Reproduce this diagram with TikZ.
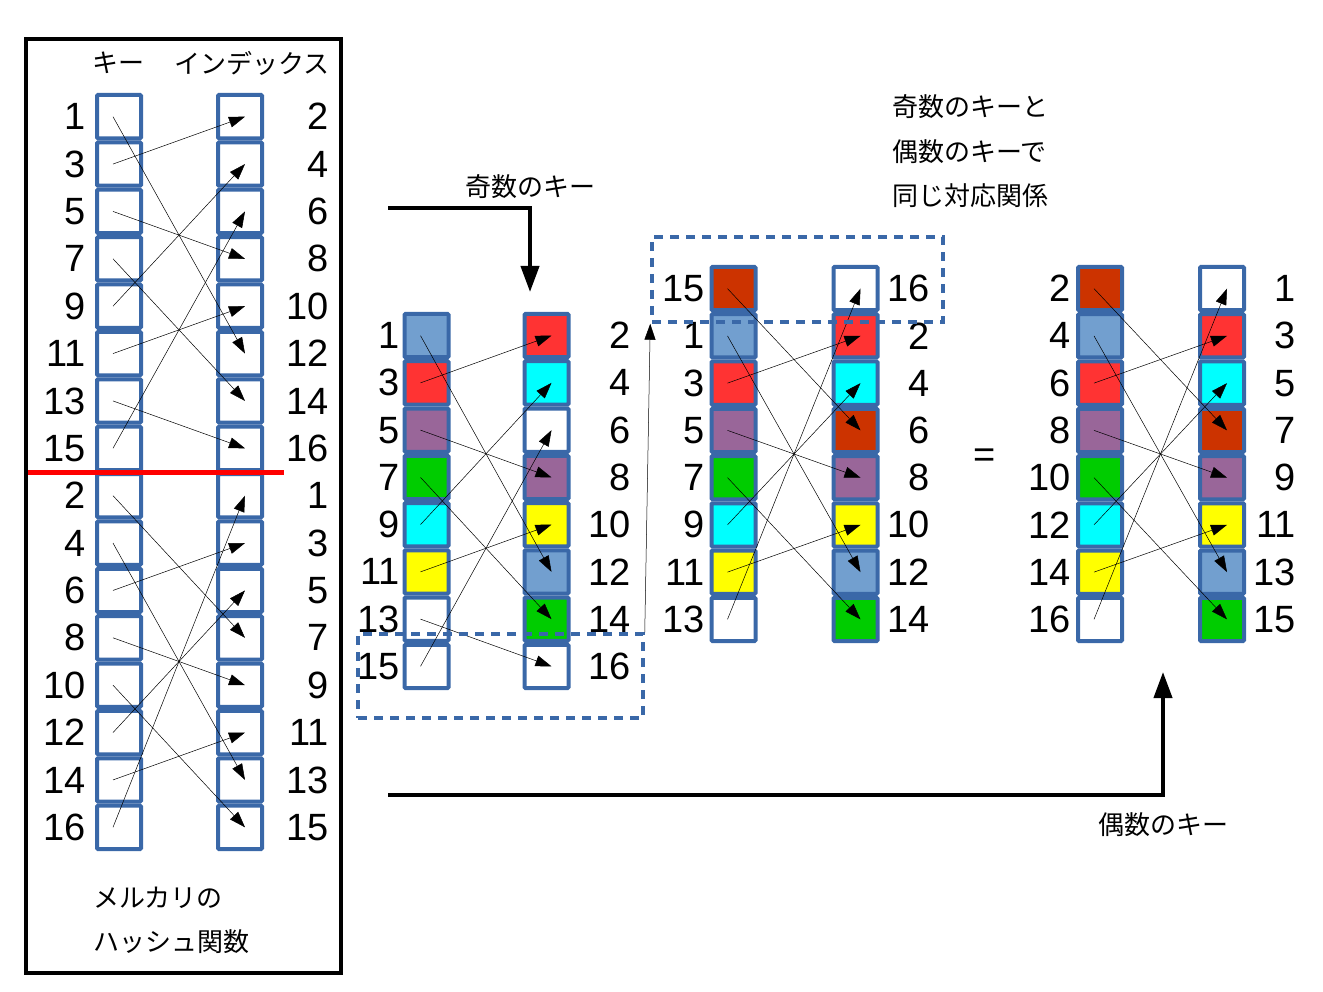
\documentclass[tikz,border=0pt]{standalone}
\usepackage{fontspec}
\setmainfont{Liberation Sans}
\newfontfamily\jp{Noto Sans CJK JP}
\usetikzlibrary{arrows.meta}
\definecolor{cb}{HTML}{3A68A8}
\definecolor{cblue}{HTML}{729FCF}
\definecolor{cred}{HTML}{FF3333}
\definecolor{cpur}{HTML}{996699}
\definecolor{cgrn}{HTML}{00CC00}
\definecolor{ccya}{HTML}{00FFFF}
\definecolor{cyel}{HTML}{FFFF00}
\definecolor{cbrn}{HTML}{CC3300}
\tikzset{
 cell/.style={draw=cb,line width=4pt,minimum width=44pt,minimum height=#1,inner sep=0pt,rounded corners=1pt},
 num/.style={font=\fontsize{38}{40}\selectfont,inner sep=0pt},
 jt/.style={font=\jp\fontsize{26}{30}\selectfont,inner sep=0pt},
 arr/.style={line width=0.5pt,-{Triangle[length=16pt,width=11pt]}},
 big/.style={line width=4pt},
 dbox/.style={draw=cb,line width=3.5pt,dash pattern=on 9pt off 7pt},
}
\newcommand\mkcol[5]{% center x, top y, prefix, cell pitch, colors
 \foreach \c [count=\i from 0] in {#5} {
  \node[cell=#4pt-4pt,fill=\c] (#3\i) at (#1,#2+#4/2+#4*\i) {};
 }}
\newcommand\mknum[4]{% x, top y, pitch, labels (anchor set by scope)
 \foreach \t [count=\i from 0] in {#4} {
  \node[num] (n\t#1) at (#1,#2+#3/2+#3*\i) {\t};
 }}
\begin{document}
\begin{tikzpicture}[x=1pt,y=-1pt]
\useasboundingbox (0,0) rectangle (1323,992);
% left panel
\node[draw,line width=3.5pt,minimum width=315pt,minimum height=934pt,inner sep=0pt] (frame) at (183.5,506) {};
\node[jt] (hk) at (118,63) {キー};
\node[jt] (hi) at (252,63) {インデックス};
\mkcol{119}{93}{L}{47.375}{white,white,white,white,white,white,white,white,white,white,white,white,white,white,white,white}
\mkcol{240}{93}{R}{47.375}{white,white,white,white,white,white,white,white,white,white,white,white,white,white,white,white}
\begin{scope}[every node/.append style={anchor=east}]
\mknum{86}{93}{47.375}{1,3,5,7,9,11,13,15,2,4,6,8,10,12,14,16}
\mknum{329}{93}{47.375}{2,4,6,8,10,12,14,16,1,3,5,7,9,11,13,15}
\end{scope}
\coordinate (rl1) at (28,472);
\coordinate (rl2) at (284,472);
\draw[red,line width=5pt] (rl1) -- (rl2);
\foreach \a/\b in {0/5,1/0,2/3,3/6,4/1,5/4,6/7,7/2,8/11,9/14,10/9,11/12,12/15,13/10,14/13,15/8}
 \draw[arr] ([xshift=-6pt]L\a.center) -- ([xshift=5pt]R\b.center);
\node[jt,anchor=west] (m1) at (93,898) {メルカリの};
\node[jt,anchor=west] (m2) at (93,942) {ハッシュ関数};
% pair A
\mkcol{426.5}{312}{A}{47.25}{cblue,cred,cpur,cgrn,ccya,cyel,white,white}
\mkcol{546.5}{312}{B}{47.25}{cred,ccya,white,cpur,cyel,cblue,cgrn,white}
\begin{scope}[every node/.append style={anchor=east}]
\mknum{400}{312}{47.25}{1,3,5,7,9,11,13,15}
\mknum{631}{312}{47.25}{2,4,6,8,10,12,14,16}
\end{scope}
\foreach \a/\b in {0/5,1/0,2/3,3/6,4/1,5/4,6/7,7/2}
 \draw[arr] ([xshift=-6pt]A\a.center) -- ([xshift=5pt]B\b.center);
% pair C
\mkcol{733.5}{265}{C}{47.25}{cbrn,cblue,cred,cpur,cgrn,ccya,cyel,white}
\mkcol{855.5}{265}{D}{47.25}{white,cred,ccya,cbrn,cpur,cyel,cblue,cgrn}
\begin{scope}[every node/.append style={anchor=east}]
\mknum{705}{265}{47.25}{15,1,3,5,7,9,11,13}
\mknum{930}{265}{47.25}{16,2,4,6,8,10,12,14}
\end{scope}
\foreach \a/\b in {0/3,1/6,2/1,3/4,4/7,5/2,6/5,7/0}
 \draw[arr] ([xshift=-6pt]C\a.center) -- ([xshift=5pt]D\b.center);
% pair E
\mkcol{1100}{265}{E}{47.25}{cbrn,cblue,cred,cpur,cgrn,ccya,cyel,white}
\mkcol{1222}{265}{F}{47.25}{white,cred,ccya,cbrn,cpur,cyel,cblue,cgrn}
\begin{scope}[every node/.append style={anchor=east}]
\mknum{1071}{265}{47.25}{2,4,6,8,10,12,14,16}
\mknum{1296}{265}{47.25}{1,3,5,7,9,11,13,15}
\end{scope}
\foreach \a/\b in {0/3,1/6,2/1,3/4,4/7,5/2,6/5,7/0}
 \draw[arr] ([xshift=-6pt]E\a.center) -- ([xshift=5pt]F\b.center);
% dashed boxes
\node[dbox,minimum width=285pt,minimum height=84pt,inner sep=0pt] (dA) at (500.5,676) {};
\node[dbox,minimum width=291pt,minimum height=85pt,inner sep=0pt] (dB) at (797.5,279.5) {};
\draw[arr] (dA.north east) -- (dB.south west);
% big arrows
\coordinate (t1) at (388,208);
\coordinate (t2) at (530,208);
\coordinate (t3) at (530,292);
\draw[big,-{Triangle[length=26pt,width=18pt]}] (t1) -- (t2) -- (t3);
\node[jt] (lo) at (530,187) {奇数のキー};
\coordinate (b1) at (388,795);
\coordinate (b2) at (1163,795);
\coordinate (b3) at (1163,672);
\draw[big,-{Triangle[length=26pt,width=18pt]}] (b1) -- (b2) -- (b3);
\node[jt] (le) at (1163,825) {偶数のキー};
\node[num] (eq) at (985,458) {=};
\node[jt,anchor=west] (s1) at (892,107) {奇数のキーと};
\node[jt,anchor=west] (s2) at (892,152) {偶数のキーで};
\node[jt,anchor=west] (s3) at (892,196) {同じ対応関係};
\end{tikzpicture}
\end{document}
